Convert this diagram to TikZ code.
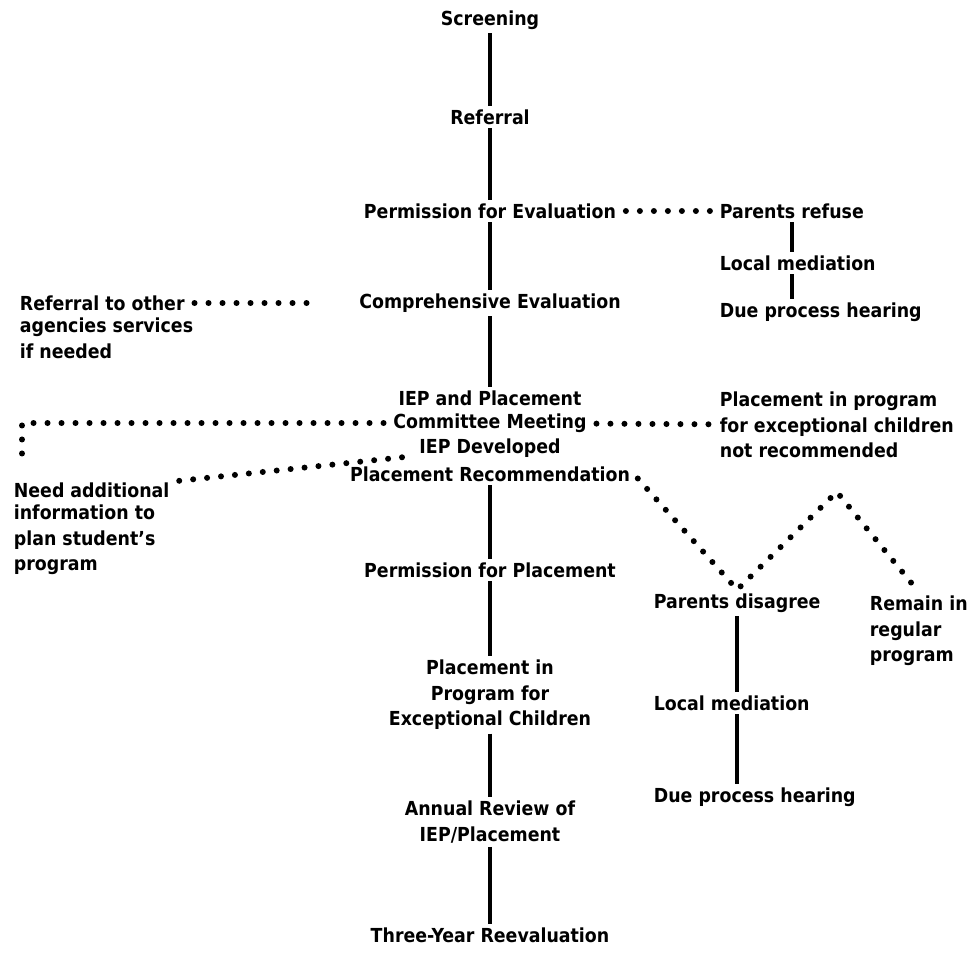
\documentclass[tikz,border=0pt]{standalone}
\usepackage{fontspec}
\setmainfont{DejaVu Sans Condensed}
\begin{document}
\begin{tikzpicture}[x=0.2mm,y=-0.2mm]
        \tikzstyle{stage}=[font=\bfseries\fontsize{11}{14.5}\selectfont,inner sep=2pt,align=center]
        \tikzstyle{branch}=[stage,align=left,anchor=west]
        \tikzstyle{edge}=[draw=black,line width=0.7mm]
        \tikzstyle{dots}=[draw=black,line width=1.2mm,line cap=round,dash pattern=on 0pt off 2.8mm,shorten <=1.2mm,shorten >=1.2mm]
       \useasboundingbox (0,0) rectangle (976,952);
       \begin{scope}

         % main column
         \node [stage] (screen) at (490,20) {Screening};
         \node [stage] (referral) at (490,117) {Referral};
         \node [stage] (permeval) at (490,211) {Permission for Evaluation};
         \node [stage] (compeval) at (490,303) {Comprehensive Evaluation};
         \node [stage] (iep) at (490,398) {IEP and Placement};
         \node [stage] (meeting) at (490,423) {Committee Meeting};
         \node [stage] (develop) at (490,448) {IEP Developed};
         \node [stage] (recom) at (490,474) {Placement Recommendation};
         \node [stage] (permplace) at (490,570) {Permission for Placement};
         \node [stage] (program) at (490,695) {Placement in\\Program for\\Exceptional Children};
         \node [stage] (annual) at (490,822) {Annual Review of\\IEP/Placement};
         \node [stage] (threeyr) at (490,935) {Three-Year Reevaluation};

         % right branches
         \node [branch] (refuse) at (716,211) {Parents refuse};
         \node [branch] (localA) at (716,263) {Local mediation};
         \node [branch] (dueA) at (716,312) {Due process hearing};
         \node [branch] (notrec) at (716,425) {Placement in program\\for exceptional children\\not recommended};
         \node [branch] (disagree) at (650,603) {Parents disagree};
         \node [branch] (localB) at (650,703) {Local mediation};
         \node [branch] (dueB) at (650,797) {Due process hearing};
         \node [branch,anchor=north west] (remain) at (866,592) {Remain in\\regular\\program};

         % left branches
         \node [branch] (refer) at (16,303) {Referral to other};
         \node [branch,anchor=north west] (referb) at (refer.south west) {agencies services\\if needed};
         \node [branch] (need) at (10,490) {Need additional};
         \node [branch,anchor=north west] (needb) at (need.south west) {information to\\plan student's\\program};
         \coordinate (turn) at (22,470);
         \coordinate (peak) at ([yshift=-6mm]notrec.south);

 		\path[edge] (screen) edge (referral);
 		\path[edge] (referral) edge (permeval);
 		\path[edge] (permeval) edge (compeval);
 		\path[edge] (compeval) edge (iep);
 		\path[edge] (recom) edge (permplace);
 		\path[edge] (permplace) edge (program);
 		\path[edge] (program) edge (annual);
 		\path[edge] (annual) edge (threeyr);

 		\path[edge] (refuse.south) edge (refuse.south |- localA.north);
 		\path[edge] (localA.south -| refuse.south) edge (refuse.south |- dueA.north);
 		\path[edge] (disagree.south) edge (disagree.south |- localB.north);
 		\path[edge] (localB.south -| disagree.south) edge (disagree.south |- dueB.north);

 		\path[dots] (permeval) edge (refuse);
 		\path[dots] (refer) edge [shorten >=7mm] (compeval);
 		\draw[dots] (meeting.west) -| (turn);
 		\path[dots] (need) edge (develop);
 		\path[dots] (meeting) edge (notrec);
 		\draw[dots] (recom.east) -- (disagree.north) -- (peak) -- (remain.north);

        \end{scope}
      \end{tikzpicture}
\end{document}
